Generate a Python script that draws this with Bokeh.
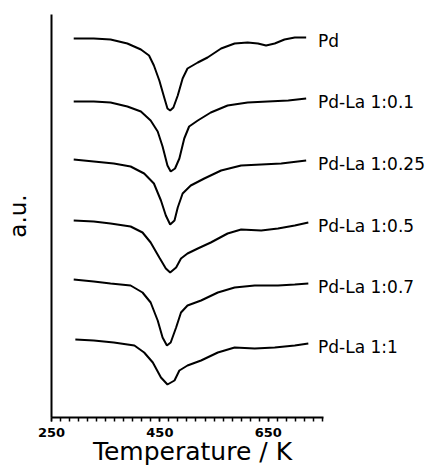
from bokeh.plotting import figure
from bokeh.models import Label, FixedTicker, Range1d, LinearAxis
from bokeh.embed import file_html
from bokeh.resources import INLINE

# ---- data (temperature in K, signal in a.u. incl. vertical offset) ----
pd_T = [291, 328, 359, 390, 415, 430, 439, 449, 458, 464, 469, 475, 483, 492, 501, 520, 538, 563, 588, 612, 631, 646, 662, 680, 699, 720]
pd_y = [37.9, 37.9, 37.8, 37.4, 36.8, 36.2, 35.2, 33.7, 32.0, 30.9, 30.7, 31.0, 32.2, 33.9, 34.9, 35.5, 36.0, 36.9, 37.4, 37.5, 37.4, 37.2, 37.4, 37.8, 38.0, 38.0]

la01_T = [291, 328, 359, 390, 415, 433, 446, 455, 464, 470, 478, 486, 495, 504, 520, 544, 575, 612, 649, 687, 720]
la01_y = [31.6, 31.6, 31.5, 31.1, 30.6, 29.7, 28.6, 27.1, 25.2, 24.6, 24.9, 25.9, 27.9, 29.1, 29.7, 30.5, 31.2, 31.5, 31.6, 31.7, 31.9]

la025_T = [291, 328, 365, 396, 421, 439, 452, 461, 469, 477, 483, 492, 507, 532, 563, 600, 637, 674, 720]
la025_y = [25.8, 25.6, 25.4, 25.1, 24.4, 23.4, 21.7, 20.2, 19.3, 19.7, 21.0, 22.4, 23.2, 23.9, 24.7, 25.2, 25.3, 25.4, 25.7]

la05_T = [291, 328, 359, 396, 418, 433, 449, 461, 469, 480, 489, 501, 520, 544, 575, 600, 637, 668, 699, 724]
la05_y = [19.7, 19.6, 19.4, 19.1, 18.5, 17.5, 16.0, 14.9, 14.5, 15.0, 15.9, 16.4, 16.9, 17.5, 18.4, 18.8, 18.7, 18.9, 19.2, 19.5]

la07_T = [291, 328, 359, 396, 418, 433, 446, 455, 463, 470, 480, 489, 501, 526, 557, 588, 625, 668, 699, 724]
la07_y = [13.8, 13.6, 13.4, 13.2, 12.5, 11.5, 9.7, 8.0, 7.2, 7.5, 9.0, 10.5, 11.2, 11.7, 12.5, 13.0, 13.2, 13.2, 13.3, 13.4]

la1_T = [294, 328, 365, 403, 421, 437, 452, 464, 477, 486, 501, 526, 557, 588, 625, 662, 699, 724]
la1_y = [7.8, 7.7, 7.5, 7.2, 6.5, 5.5, 4.0, 3.3, 3.7, 4.7, 5.2, 5.7, 6.5, 7.0, 6.9, 7.0, 7.2, 7.4]

series_names = ["Pd", "Pd-La 1:0.1", "Pd-La 1:0.25", "Pd-La 1:0.5", "Pd-La 1:0.7", "Pd-La 1:1"]
series_T = [pd_T, la01_T, la025_T, la05_T, la07_T, la1_T]
series_y = [pd_y, la01_y, la025_y, la05_y, la07_y, la1_y]

x_major_ticks = [250, 450, 650]
x_axis_start, x_axis_end = 250, 752
y_axis_start, y_axis_end = 0.0, 40.3
x_label = "Temperature / K"
y_label = "a.u."

FONT = "DejaVu Sans"

# ---- layout: the frame covers the whole canvas, axes are drawn at fixed locations ----
W, H = 443, 466
AX_X0, AX_X1 = 51, 323      # pixel extent of the x axis
AX_Y0 = 417                 # pixel row of the x axis
px_per_K = (AX_X1 - AX_X0) / (x_axis_end - x_axis_start)
px_per_au = 10.0
x_lo = x_axis_start - AX_X0 / px_per_K
x_hi = x_axis_start + (W - AX_X0) / px_per_K
y_lo = y_axis_start - (H - AX_Y0) / px_per_au
y_hi = y_axis_start + AX_Y0 / px_per_au

p = figure(width=W, height=H,
           x_range=Range1d(x_lo, x_hi), y_range=Range1d(y_lo, y_hi),
           output_backend="svg", toolbar_location=None, title=None,
           x_axis_location=None, y_axis_location=None,
           min_border=0)
p.outline_line_color = None
p.grid.visible = False
p.background_fill_color = "white"
p.border_fill_color = "white"

for T, y in zip(series_T, series_y):
    p.line(T, y, line_color="black", line_width=2)

for name, T, y in zip(series_names, series_T, series_y):
    p.add_layout(Label(x=742, y=y[-1] - 0.3, text=name, text_baseline="middle",
                       text_align="left", text_font=FONT, text_font_size="17px",
                       text_color="black"))

# x axis
minor = [x_axis_start + k * 200 / 12 for k in range(31)]
xaxis = LinearAxis(fixed_location=y_axis_start, bounds=(x_axis_start, x_axis_end),
                   ticker=FixedTicker(ticks=x_major_ticks, minor_ticks=minor))
xaxis.axis_line_width = 2
xaxis.axis_line_color = "black"
xaxis.major_tick_out = 4
xaxis.major_tick_in = 0
xaxis.minor_tick_out = 4
xaxis.minor_tick_in = 0
xaxis.major_tick_line_width = 1.5
xaxis.minor_tick_line_width = 1.5
xaxis.major_tick_line_color = "black"
xaxis.minor_tick_line_color = "black"
xaxis.major_label_standoff = 6
xaxis.major_label_text_font = FONT
xaxis.major_label_text_font_style = "bold"
xaxis.major_label_text_font_size = "13px"
xaxis.major_label_text_color = "black"
p.add_layout(xaxis, "below")

# y axis: plain line only
yaxis = LinearAxis(fixed_location=x_axis_start, bounds=(y_axis_start, y_axis_end),
                   ticker=FixedTicker(ticks=[]))
yaxis.axis_line_width = 2
yaxis.axis_line_color = "black"
yaxis.major_tick_out = 0
yaxis.major_tick_in = 0
yaxis.minor_tick_out = 0
yaxis.minor_tick_in = 0
yaxis.major_tick_line_color = None
yaxis.minor_tick_line_color = None
yaxis.major_label_text_font_size = "0px"
p.add_layout(yaxis, "left")

# axis titles
p.add_layout(Label(x=x_axis_start + (192 - AX_X0) / px_per_K,
                   y=y_axis_start - (451.3 - AX_Y0) / px_per_au,
                   text=x_label, text_align="center", text_baseline="middle",
                   text_font=FONT, text_font_size="25px", text_color="black"))
p.add_layout(Label(x=x_axis_start - (AX_X0 - 17) / px_per_K,
                   y=(y_axis_start + y_axis_end) / 2,
                   text=y_label, angle=1.5707963267948966,
                   text_align="center", text_baseline="middle",
                   text_font=FONT, text_font_size="23px", text_color="black"))

open("out.html", "w").write(file_html(p, INLINE))
